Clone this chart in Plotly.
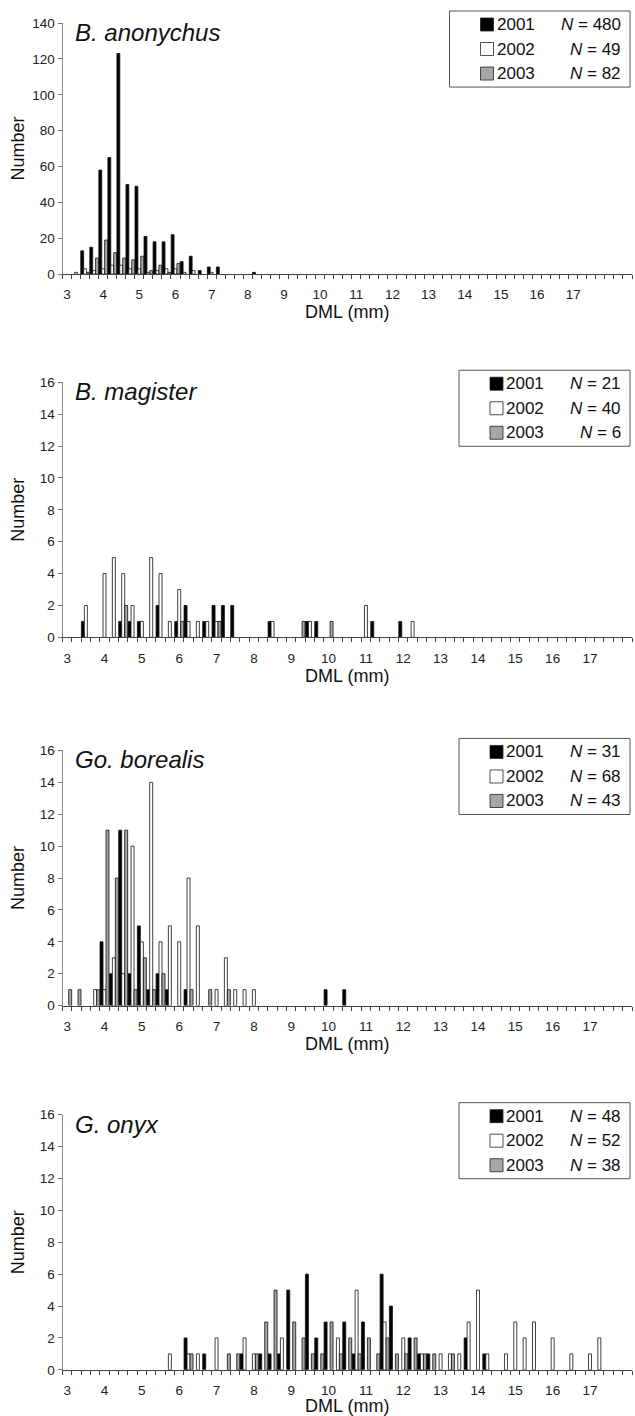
import plotly.graph_objects as go

# ---------------- data: counts per 0.25 mm DML bin (bin value -> number) ----------------
YEARS = ["2001", "2002", "2003"]

ANON_2001 = {3.5: 13, 3.75: 15, 4.0: 58, 4.25: 65, 4.5: 123, 4.75: 50, 5.0: 49, 5.25: 21,
             5.5: 18, 5.75: 18, 6.0: 22, 6.25: 7, 6.5: 10, 6.75: 2, 7.0: 4, 7.25: 4, 8.25: 1}
ANON_2002 = {3.25: 1, 3.5: 3, 3.75: 2, 4.0: 3, 4.25: 5, 4.5: 5, 4.75: 3, 5.0: 3, 5.25: 1,
             5.5: 2, 5.75: 3, 6.0: 3, 6.25: 1, 6.5: 2, 7.0: 1}
ANON_2003 = {3.5: 1, 3.75: 9, 4.0: 19, 4.25: 12, 4.5: 9, 4.75: 8, 5.0: 10, 5.25: 2,
             5.5: 5, 5.75: 1, 6.0: 6}
ANON_N = [480, 49, 82]

MAG_2001 = {3.5: 1, 4.5: 1, 4.75: 1, 5.0: 1, 5.5: 2, 6.0: 1, 6.25: 2, 6.75: 1, 7.0: 2,
            7.25: 2, 7.5: 2, 8.5: 1, 9.5: 1, 9.75: 1, 11.25: 1, 12.0: 1}
MAG_2002 = {3.5: 2, 4.0: 4, 4.25: 5, 4.5: 4, 4.75: 2, 5.0: 1, 5.25: 5, 5.5: 4, 5.75: 1,
            6.0: 3, 6.25: 1, 6.5: 1, 6.75: 1, 7.0: 1, 8.5: 1, 9.5: 1, 11.0: 2, 12.25: 1}
MAG_2003 = {4.5: 2, 6.0: 1, 7.0: 1, 9.25: 1, 10.0: 1}
MAG_N = [21, 40, 6]

BOR_2001 = {4.0: 4, 4.25: 2, 4.5: 11, 4.75: 2, 5.0: 5, 5.25: 1, 5.5: 2, 5.75: 1, 6.25: 1,
            10.0: 1, 10.5: 1}
BOR_2002 = {3.75: 1, 4.0: 1, 4.25: 3, 4.5: 2, 4.75: 10, 5.0: 4, 5.25: 14, 5.5: 4, 5.75: 5,
            6.0: 4, 6.25: 8, 6.5: 5, 7.0: 1, 7.25: 3, 7.5: 1, 7.75: 1, 8.0: 1}
BOR_2003 = {3.0: 1, 3.25: 1, 3.75: 1, 4.0: 11, 4.25: 8, 4.5: 11, 4.75: 1, 5.0: 3, 5.25: 1,
            5.5: 2, 6.25: 1, 6.75: 1, 7.25: 1}
BOR_N = [31, 68, 43]

ONYX_2001 = {6.25: 2, 6.75: 1, 7.75: 1, 8.25: 1, 8.5: 1, 8.75: 1, 9.0: 5, 9.5: 6, 9.75: 2,
             10.0: 3, 10.5: 3, 10.75: 1, 11.0: 3, 11.5: 6, 11.75: 4, 12.25: 2, 12.5: 1,
             12.75: 1, 13.75: 2, 14.25: 1}
ONYX_2002 = {5.75: 1, 6.25: 1, 6.5: 1, 7.0: 2, 7.75: 2, 8.0: 1, 8.75: 2, 10.25: 2, 10.75: 5,
             11.5: 3, 12.0: 2, 12.5: 1, 13.0: 1, 13.25: 1, 13.5: 1, 13.75: 3, 14.0: 5,
             14.25: 1, 14.75: 1, 15.0: 3, 15.25: 2, 15.5: 3, 16.0: 2, 16.5: 1, 17.0: 1, 17.25: 2}
ONYX_2003 = {6.25: 1, 7.25: 1, 7.5: 1, 8.0: 1, 8.25: 3, 8.5: 5, 9.0: 3, 9.25: 2, 9.5: 1,
             9.75: 1, 10.0: 3, 10.25: 1, 10.5: 2, 10.75: 1, 11.0: 2, 11.25: 1, 11.5: 2,
             11.75: 1, 12.0: 1, 12.25: 2, 12.5: 1, 12.75: 1, 13.25: 1}
ONYX_N = [48, 52, 38]

SPECIES = ["B. anonychus", "B. magister", "Go. borealis", "G. onyx"]
X_TICKS = list(range(3, 18))
BIN_W = 0.25

# ---------------- layout helpers ----------------
W, H = 635, 1416
FONT = "Arial, Liberation Sans, sans-serif"
FILLS = ["#000000", "#ffffff", "#a6a6a6"]

panels = [
    dict(data=(ANON_2001, ANON_2002, ANON_2003), N=ANON_N, top=24, bottom=275, ymax=140, dtick=20,
         nbins=63, ystand=2),
    dict(data=(MAG_2001, MAG_2002, MAG_2003), N=MAG_N, top=383, bottom=638, ymax=16, dtick=2,
         nbins=61, ystand=10),
    dict(data=(BOR_2001, BOR_2002, BOR_2003), N=BOR_N, top=751, bottom=1006, ymax=16, dtick=2,
         nbins=61, ystand=10),
    dict(data=(ONYX_2001, ONYX_2002, ONYX_2003), N=ONYX_N, top=1115, bottom=1370, ymax=16, dtick=2,
         nbins=61, ystand=10),
]

fig = go.Figure()
annotations, shapes = [], []
layout = dict(
    width=W, height=H, margin=dict(l=0, r=0, t=0, b=0),
    paper_bgcolor="white", plot_bgcolor="white", showlegend=False,
    barmode="overlay", font=dict(family=FONT, color="#222"),
)

x0, x1 = 62.5 / W, 632 / W
bar_w = BIN_W * 0.96 / 3


def px(xp):
    return xp / W


def py(yp):
    # page pixel (from top) -> paper fraction; compensates the observed vertical
    # offset/scale of the photographed page
    return 1 - ((yp - 8) / 0.9888) / H


for i, p in enumerate(panels, start=1):
    sfx = "" if i == 1 else str(i)
    xa, ya = "x" + sfx, "y" + sfx
    for k, (yr, d) in enumerate(zip(YEARS, p["data"])):
        fig.add_trace(go.Bar(
            x=list(d.keys()), y=list(d.values()),
            width=bar_w, offset=-1.5 * bar_w + k * bar_w,
            marker=dict(color=FILLS[k], line=dict(color="#111", width=0.8)),
            name=yr, xaxis=xa, yaxis=ya, hoverinfo="x+y",
        ))
    lo = 3 - BIN_W / 2
    hi = lo + p["nbins"] * BIN_W
    bounds = [lo + j * BIN_W for j in range(p["nbins"] + 1)]
    layout["xaxis" + sfx] = dict(
        domain=[x0, x1], anchor=ya, range=[lo, hi],
        tickmode="array", tickvals=X_TICKS, ticktext=[str(t) for t in X_TICKS],
        ticks="", showline=True, linecolor="#444", linewidth=1,
        showgrid=False, zeroline=False,
        minor=dict(tickmode="array", tickvals=bounds, ticks="outside", ticklen=4,
                   tickcolor="#444", tickwidth=1),
        tickfont=dict(size=13.5, color="#222"), ticklabelstandoff=8,
        title=dict(text="DML (mm)", font=dict(size=18, color="#111"), standoff=2),
    )
    layout["yaxis" + sfx] = dict(
        domain=[py(p["bottom"]), py(p["top"])], anchor=xa,
        range=[0, p["ymax"]], dtick=p["dtick"], tick0=0,
        ticks="outside", ticklen=4, tickcolor="#777", showline=True, linecolor="#888",
        linewidth=1, showgrid=False, zeroline=False,
        tickfont=dict(size=13.5, color="#222"),
        title=dict(text="Number", font=dict(size=18, color="#111"), standoff=p["ystand"]),
    )
    # species label
    annotations.append(dict(
        text="<i>" + SPECIES[i - 1] + "</i>", xref="paper", yref="paper",
        x=px(73), y=py(p["top"] - 6), xanchor="left", yanchor="top",
        showarrow=False, font=dict(size=24, color="#111", family=FONT),
    ))
    # legend box (right aligned)
    shift = 9.5 if max(len(str(n)) for n in p["N"]) > 2 else 0
    btop = p["top"] - 12
    shapes.append(dict(type="rect", xref="paper", yref="paper",
                       x0=px(459 - shift), x1=px(630), y0=py(btop + 76), y1=py(btop),
                       line=dict(color="#555", width=1), fillcolor="white", layer="above"))
    for k, (yr, n) in enumerate(zip(YEARS, p["N"])):
        cy = btop + 13.5 + k * 24.5
        shapes.append(dict(type="rect", xref="paper", yref="paper",
                           x0=px(490 - shift), x1=px(503 - shift), y0=py(cy + 6.5), y1=py(cy - 6.5),
                           line=dict(color="#222", width=0.8), fillcolor=FILLS[k], layer="above"))
        annotations.append(dict(
            text=yr, xref="paper", yref="paper", x=px(504 - shift), y=py(cy),
            xanchor="left", yanchor="middle", showarrow=False,
            font=dict(size=17, color="#111", family=FONT)))
        annotations.append(dict(
            text="<i>N</i> = " + str(n), xref="paper", yref="paper", x=px(623), y=py(cy),
            xanchor="right", yanchor="middle", showarrow=False,
            font=dict(size=17, color="#111", family=FONT)))

layout["annotations"] = annotations
layout["shapes"] = shapes
fig.update_layout(**layout)
fig.write_html("out.html", config={"displayModeBar": False},
               post_script="document.body.style.margin='0px';")
